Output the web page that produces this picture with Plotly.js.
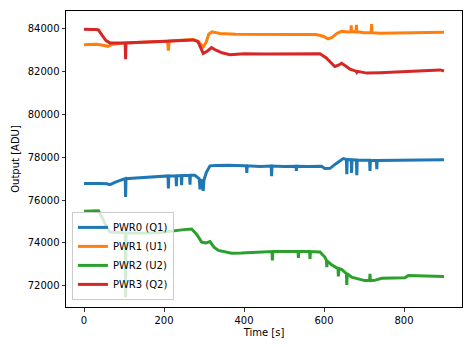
<!DOCTYPE html>
<html>
<head>
<meta charset="utf-8">
<script src="https://cdn.plot.ly/plotly-3.0.1.min.js"></script>
<style>html,body{margin:0;padding:0;background:#fff;}#chart{width:473px;height:347px;}</style>
</head>
<body>
<div id="chart"></div>
<script>
// Series names
const seriesNames = ["PWR0 (Q1)", "PWR1 (U1)", "PWR2 (U2)", "PWR3 (Q2)"];

// PWR0 (Q1)
const pwr0Time = [0,20,40,57,65,80,100,103,104,105, 130,160,190,210,211,212,230,231,232,243, 244,245,264,265,266,277,288,290,292,296, 298,300,306,315,330,360,400,406,407,408, 440,468,469,470,500,530,531,532,560,594, 602,615,630,648,656,657,658,668,669,670, 681,682,683,700,714,715,716,731,732,733, 760,800,840,870,900];
const pwr0Values = [76770,76780,76770,76760,76720,76850,76990,77000,76150,77000, 77030,77070,77110,77130,76540,77130,77140,76650,77140,77150, 76700,77150,77160,76720,77160,77160,77000,76500,76950,76850, 76430,76950,77300,77600,77620,77630,77600,77600,77270,77600, 77570,77590,77110,77590,77570,77580,77370,77580,77570,77580, 77470,77480,77700,77940,77900,77210,77900,77880,77270,77880, 77870,77160,77870,77860,77860,77360,77860,77850,77440,77850, 77850,77860,77860,77880,77880];

// PWR1 (U1)
const pwr1Time = [0,15,30,40,50,60,69,80,100,130, 160,190,209,211,213,240,273,285,298,305, 312,320,340,380,420,460,500,540,580,598, 610,620,632,644,660,667,668,669,675,680, 681,682,700,718,719,720,740,770,800,830, 860,890,900];
const pwr1Values = [83250,83270,83280,83250,83200,83180,83260,83300,83340,83360, 83390,83410,83420,82980,83420,83460,83500,83420,83150,83350, 83750,83860,83780,83740,83730,83740,83730,83730,83730,83650, 83530,83600,83780,83880,83850,83860,84160,83860,83860,83850, 84180,83860,83820,83820,84220,83820,83790,83800,83810,83830, 83840,83850,83840];

// PWR2 (U2)
const pwr2Time = [0,20,36,45,55,65,80,100,103,104, 105,130,160,185,227,250,269,282,294,305, 315,325,336,350,369,394,427,460,470,471, 472,500,535,536,537,564,565,566,590,602, 606,607,608,619,635,636,637,644,656,657, 658,669,690,702,714,715,716,727,744,770, 802,811,840,870,900];
const pwr2Values = [75475,75500,75500,75200,74800,74510,74480,74470,74470,71460, 74470,74460,74460,74480,74590,74620,74650,74400,74040,74000, 74060,73800,73650,73580,73520,73530,73570,73600,73600,73180, 73600,73600,73600,73300,73600,73600,73250,73600,73580,73340, 73200,72870,73150,72980,72800,72440,72800,72760,72560,72040, 72560,72400,72280,72240,72240,72560,72240,72250,72350,72360, 72370,72480,72460,72450,72430];

// PWR3 (Q2)
const pwr3Time = [0,10,20,30,36,45,55,65,80,100, 103,104,105,130,160,190,220,250,273,285, 298,308,319,330,345,365,400,450,500,550, 590,605,615,627,636,644,655,665,680,682, 684,707,740,770,800,830,860,890,900];
const pwr3Values = [83980,83990,83970,83970,83950,83700,83450,83340,83330,83340, 83340,82580,83340,83360,83380,83400,83430,83460,83480,83400, 82850,82950,83120,83000,82880,82790,82830,82820,82830,82810, 82830,82650,82450,82240,82300,82390,82250,82110,82020,81960, 82010,81930,81950,81970,82000,82030,82050,82080,82030];

const xTickVals = [0, 200, 400, 600, 800];
const yTickVals = [72000, 74000, 76000, 78000, 80000, 82000, 84000];

const colors = ["#1f77b4", "#ff7f0e", "#2ca02c", "#d62728"];
const times = [pwr0Time, pwr1Time, pwr2Time, pwr3Time];
const values = [pwr0Values, pwr1Values, pwr2Values, pwr3Values];

const traces = seriesNames.map((name, i) => ({
  x: times[i], y: values[i], name: name, type: "scatter", mode: "lines",
  line: {color: colors[i], width: 3}
}));

const font = {family: "DejaVu Sans, sans-serif", size: 10, color: "#000"};

const layout = {
  width: 473, height: 347,
  margin: {l: 66, r: 11, t: 11, b: 40, pad: 0},
  paper_bgcolor: "#fff", plot_bgcolor: "#fff",
  font: font,
  showlegend: true,
  legend: {
    x: 0.015, y: 0.024, xanchor: "left", yanchor: "bottom",
    bgcolor: "rgba(255,255,255,0.8)", bordercolor: "#cccccc", borderwidth: 1,
    font: {family: "DejaVu Sans, sans-serif", size: 10, color: "#000"},
    tracegroupgap: 0, itemwidth: 30
  },
  xaxis: {
    range: [-45, 945], tickvals: xTickVals, ticktext: xTickVals.map(String),
    ticks: "outside", ticklen: 3.5, tickwidth: 0.8, tickcolor: "#000",
    showline: true, mirror: true, linecolor: "#000", linewidth: 1,
    showgrid: false, zeroline: false,
    title: {text: "Time [s]", font: font, standoff: 4},
    tickfont: font
  },
  yaxis: {
    range: [71007, 84830], tickvals: yTickVals, ticktext: yTickVals.map(String),
    ticks: "outside", ticklen: 3.5, tickwidth: 0.8, tickcolor: "#000",
    showline: true, mirror: true, linecolor: "#000", linewidth: 1,
    showgrid: false, zeroline: false,
    title: {text: "Output [ADU]", font: font, standoff: 6},
    tickfont: font
  }
};

Plotly.newPlot("chart", traces, layout, {displayModeBar: false, staticPlot: true});
</script>
</body>
</html>
